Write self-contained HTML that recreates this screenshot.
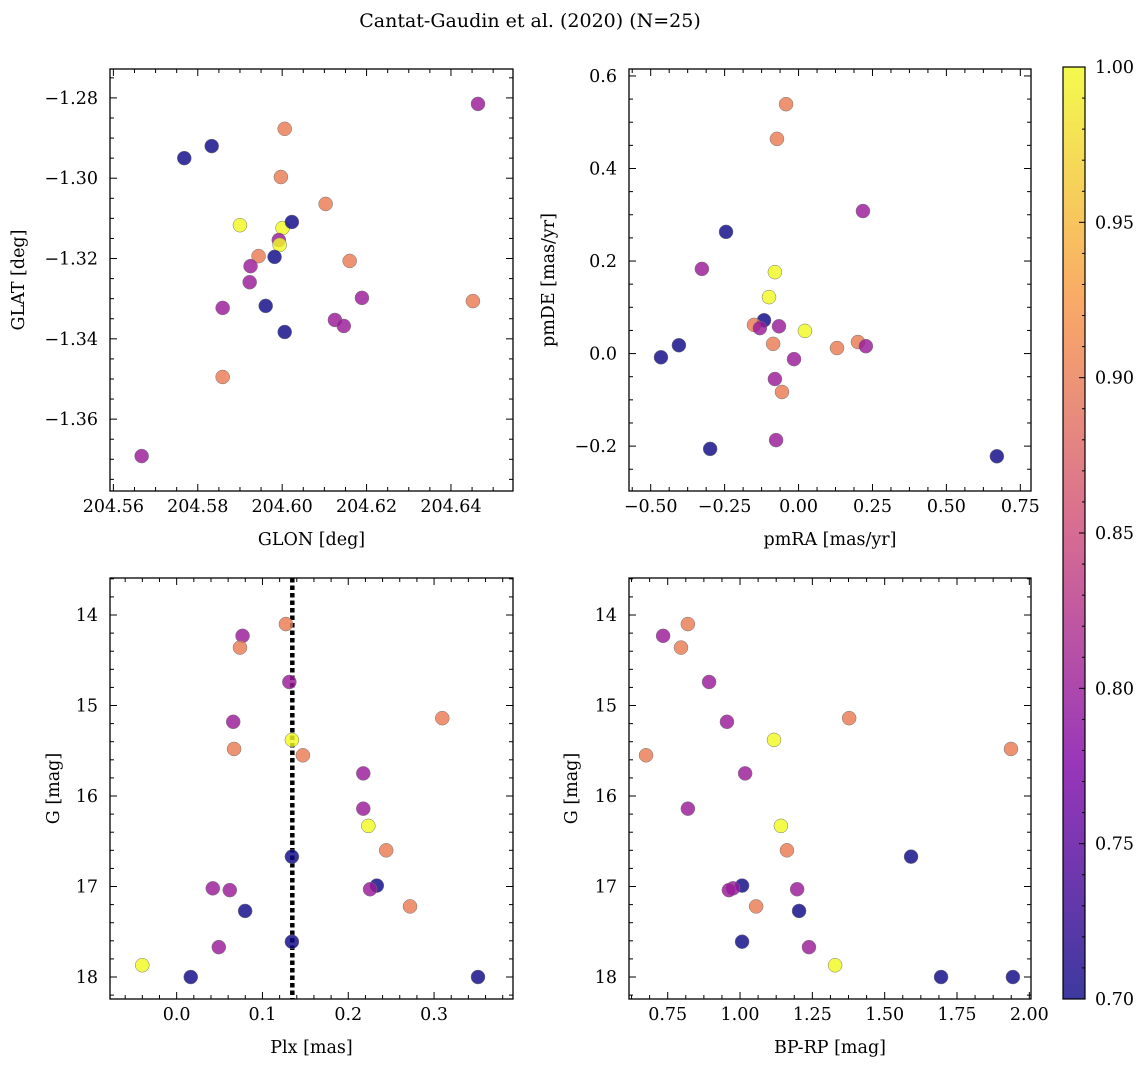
<!DOCTYPE html>
<html><head><meta charset="utf-8"><style>
body{margin:0;background:#fff;}
svg{display:block;font-family:"DejaVu Serif","Liberation Serif",serif;}
</style></head><body>
<svg id="fig" width="1148" height="1067" xmlns="http://www.w3.org/2000/svg">
<defs><linearGradient id="cbg" x1="0" y1="1" x2="0" y2="0">
<stop offset="0" stop-color="#3d399f"/><stop offset="0.25" stop-color="#9836b9"/><stop offset="0.5" stop-color="#d66c93"/><stop offset="0.75" stop-color="#f9aa66"/><stop offset="1" stop-color="#f3fa4d"/>
</linearGradient></defs>
<text x="530" y="27" font-size="19" text-anchor="middle">Cantat-Gaudin et al. (2020) (N=25)</text>
</svg>
<script>
// Panel 1: GLON vs GLAT
const p1x=[204.5768,204.5833,204.6006,204.5997,204.6103,204.6464,204.5900,204.6001,204.6023,204.5992,204.5994,204.5944,204.5982,204.5925,204.6160,204.5923,204.6189,204.5961,204.5859,204.6125,204.6146,204.6006,204.6452,204.5859,204.5667];
const p1y=[-1.2950,-1.2920,-1.2877,-1.2997,-1.3064,-1.2815,-1.3117,-1.3124,-1.3109,-1.3154,-1.3166,-1.3194,-1.3196,-1.3219,-1.3206,-1.3259,-1.3298,-1.3318,-1.3323,-1.3353,-1.3368,-1.3383,-1.3306,-1.3495,-1.3692];
const p1c=[0.70,0.70,0.90,0.90,0.90,0.80,1.00,1.00,0.70,0.80,1.00,0.90,0.70,0.80,0.90,0.80,0.80,0.70,0.80,0.80,0.80,0.70,0.90,0.90,0.80];
// Panel 2: pmRA vs pmDE
const p2x=[-0.0422,-0.0730,0.2177,-0.2453,-0.3269,-0.0800,-0.0999,-0.1168,-0.1507,-0.1308,-0.0661,0.0216,-0.0860,0.2008,0.1301,0.2276,-0.4653,-0.4046,-0.0153,-0.0800,-0.0561,-0.0760,-0.2990,0.6707];
const p2y=[0.539,0.464,0.308,0.263,0.183,0.176,0.122,0.072,0.062,0.055,0.059,0.049,0.021,0.025,0.012,0.016,-0.008,0.018,-0.012,-0.055,-0.083,-0.187,-0.206,-0.222];
const p2c=[0.90,0.90,0.80,0.70,0.80,1.00,1.00,0.70,0.90,0.80,0.80,1.00,0.90,0.90,0.90,0.80,0.70,0.70,0.80,0.80,0.90,0.80,0.70,0.70];
// Panel 3 & 4: Plx / BP-RP vs G
const plx=[0.1273,0.0768,0.0738,0.1313,0.3096,0.0659,0.1343,0.0669,0.1471,0.2175,0.2175,0.2234,0.2442,0.1343,0.2333,0.2254,0.0421,0.0619,0.2720,0.0798,0.1343,0.0491,-0.0401,0.0164,0.3512];
const gmag=[14.10,14.23,14.36,14.74,15.14,15.18,15.38,15.48,15.55,15.75,16.14,16.33,16.60,16.67,16.99,17.03,17.02,17.04,17.22,17.27,17.61,17.67,17.87,18.00,18.00];
const gcol=[0.90,0.80,0.90,0.80,0.90,0.80,1.00,0.90,0.90,0.80,0.80,1.00,0.90,0.70,0.70,0.80,0.80,0.80,0.90,0.70,0.70,0.80,1.00,0.70,0.70];
const bprp=[0.8197,0.7341,0.7959,0.8930,1.3772,0.9548,1.1175,1.9366,0.6751,1.0176,0.8197,1.1413,1.1622,1.5912,1.0071,1.1974,0.9757,0.9615,1.0556,1.2041,1.0071,1.2383,1.3287,1.6949,1.9432];
const plxLine=0.1348;

const NS="http://www.w3.org/2000/svg";
const svg=document.getElementById('fig');
const FS=17.5;
function el(tag,attrs,parent){const e=document.createElementNS(NS,tag);for(const k in attrs)e.setAttribute(k,attrs[k]);(parent||svg).appendChild(e);return e;}
const stops=[[0,[13,8,135]],[0.25,[126,3,168]],[0.5,[204,71,120]],[0.75,[248,149,64]],[1,[240,249,33]]];
function plasma(v){let t=Math.max(0,Math.min(1,(v-0.7)/0.3));for(let i=1;i<stops.length;i++){if(t<=stops[i][0]){const a=stops[i-1],b=stops[i];const f=(t-a[0])/(b[0]-a[0]);const c=a[1].map((x,j)=>Math.round(x+(b[1][j]-x)*f));return `rgb(${c.join(',')})`;}}return 'rgb(240,249,33)';}

function panel(o){
  const g=el('g',{});
  
  
  const L=o.L,R=o.R,T=o.T,B=o.B;
  const sx=v=>L+(v-o.x0)/(o.x1-o.x0)*(R-L);
  const sy=v=>o.yinv? T+(v-o.y0)/(o.y1-o.y0)*(B-T) : B-(v-o.y0)/(o.y1-o.y0)*(B-T);
  o.extra&&o.extra(g,sx,sy);
  for(let i=0;i<o.xs.length;i++){
    const c=el('circle',{cx:sx(o.xs[i]),cy:sy(o.ys[i]),r:7,fill:plasma(o.cs[i]),'fill-opacity':0.82,stroke:'#777','stroke-width':0.5},g);
    
    
  }
  const fr=el('rect',{x:L,y:T,width:R-L,height:B-T,fill:'none',stroke:'#000','stroke-width':1.3},g);
  
  
  const eps=1e-9;
  for(let v=Math.ceil(o.x0/o.xminor-eps)*o.xminor;v<=o.x1+eps;v+=o.xminor){
    const px=sx(v);const maj=Math.abs(Math.round(v/o.xmajor)*o.xmajor-v)<o.xminor*0.1;const len=maj?7:4;
    el('line',{x1:px,x2:px,y1:B,y2:B-len,stroke:'#000','stroke-width':1},g);
    el('line',{x1:px,x2:px,y1:T,y2:T+len,stroke:'#000','stroke-width':1},g);
    if(maj){const t=el('text',{x:px,y:B+21,'font-size':FS,'text-anchor':'middle'},g);t.textContent=o.xfmt(Math.round(v/o.xmajor)*o.xmajor);
      
      }
  }
  for(let v=Math.ceil(o.y0/o.yminor-eps)*o.yminor;v<=o.y1+eps;v+=o.yminor){
    const py=sy(v);const maj=Math.abs(Math.round(v/o.ymajor)*o.ymajor-v)<o.yminor*0.1;const len=maj?7:4;
    el('line',{x1:L,x2:L+len,y1:py,y2:py,stroke:'#000','stroke-width':1},g);
    el('line',{x1:R,x2:R-len,y1:py,y2:py,stroke:'#000','stroke-width':1},g);
    if(maj){const t=el('text',{x:L-12,y:py+6,'font-size':FS,'text-anchor':'end'},g);t.textContent=o.yfmt(Math.round(v/o.ymajor)*o.ymajor);
      
      }
  }
  const xl=el('text',{x:(L+R)/2,y:B+54,'font-size':FS,'text-anchor':'middle'},g);xl.textContent=o.xlabel;
  
  
  const yx=o.ylx;const yy=(T+B)/2;
  const yl=el('text',{x:yx,y:yy,'font-size':FS,'text-anchor':'middle',transform:`rotate(-90 ${yx} ${yy})`},g);yl.textContent=o.ylabel;
  
  
}
const mf=s=>v=>(v<0?'\u2212':'')+Math.abs(v).toFixed(s);
panel({name:'glon-glat-panel',L:110,R:513,T:69,B:491,x0:204.5592,x1:204.6547,y0:-1.3779,y1:-1.2728,xs:p1x,ys:p1y,cs:p1c,
  xmajor:0.02,xminor:0.005,ymajor:0.02,yminor:0.005,xfmt:mf(2),yfmt:mf(2),xlabel:'GLON [deg]',ylabel:'GLAT [deg]',ylx:24});
panel({name:'pm-panel',L:629,R:1031,T:69,B:491,x0:-0.5734,x1:0.7861,y0:-0.297,y1:0.615,xs:p2x,ys:p2y,cs:p2c,
  xmajor:0.25,xminor:0.0625,ymajor:0.2,yminor:0.05,xfmt:mf(2),yfmt:mf(1),xlabel:'pmRA [mas/yr]',ylabel:'pmDE [mas/yr]',ylx:554});
panel({name:'plx-g-panel',L:110,R:513,T:578,B:999,x0:-0.0777,x1:0.3920,y0:13.591,y1:18.243,yinv:true,xs:plx,ys:gmag,cs:gcol,
  xmajor:0.1,xminor:0.02,ymajor:1,yminor:0.2,xfmt:mf(1),yfmt:mf(0),xlabel:'Plx [mas]',ylabel:'G [mag]',ylx:59,
  extra:(g,sx,sy)=>{const l=el('line',{x1:sx(plxLine),x2:sx(plxLine),y1:578,y2:999,stroke:'#000','stroke-width':4.5,'stroke-dasharray':'4.5 3'},g);
    
    }});
panel({name:'cmd-panel',L:629,R:1031,T:578,B:999,x0:0.6162,x1:2.0058,y0:13.591,y1:18.243,yinv:true,xs:bprp,ys:gmag,cs:gcol,
  xmajor:0.25,xminor:0.0625,ymajor:1,yminor:0.2,xfmt:mf(2),yfmt:mf(0),xlabel:'BP-RP [mag]',ylabel:'G [mag]',ylx:577});
const cb=el('g',{});


el('rect',{x:1063,y:67,width:22,height:932,fill:'url(#cbg)',stroke:'#000','stroke-width':1.2},cb);
const cbTicks=[0.70,0.75,0.80,0.85,0.90,0.95,1.00];
for(let v=0.70;v<=1.0001;v+=0.01){const py=999-(v-0.7)/0.3*932;const maj=Math.abs(Math.round(v*20)/20-v)<0.001;
  el('line',{x1:1085,x2:1085-(maj?6:3),y1:py,y2:py,stroke:'#000','stroke-width':1},cb);}
cbTicks.forEach(v=>{const py=999-(v-0.7)/0.3*932;const t=el('text',{x:1095,y:py+6,'font-size':FS},cb);t.textContent=v.toFixed(2);
  
  });
</script>
</body></html>
